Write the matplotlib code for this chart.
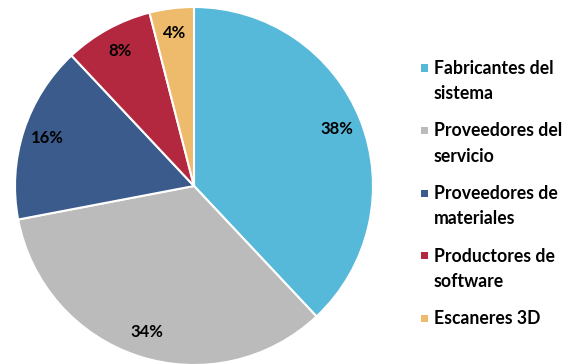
import matplotlib
matplotlib.use('Agg')
from matplotlib import pyplot as plt
from matplotlib.patches import Rectangle

plt.rcParams['font.family'] = ['Lato', 'DejaVu Sans']

categorias = ["Fabricantes del\nsistema", "Proveedores del\nservicio",
              "Proveedores de\nmateriales", "Productores de\nsoftware",
              "Escaneres 3D"]
porcentajes = [38, 34, 16, 8, 4]
colores = ['#57B9D9', '#BBBBBB', '#3B5B8C', '#B3283F', '#EDBB6B']

W, H = 577, 364
fig = plt.figure(figsize=(W / 100, H / 100), dpi=100)

# pie: centro (194, 186) px, radio 179 px
cx, cy, r = 194, 186, 179
ax = fig.add_axes([(cx - r) / W, (H - cy - r) / H, 2 * r / W, 2 * r / H])
wedges, textos, autotextos = ax.pie(
    porcentajes, colors=colores, startangle=90, counterclock=False,
    autopct='%d%%', pctdistance=0.86,
    wedgeprops=dict(edgecolor='white', linewidth=1.5),
    textprops=dict(fontsize=12, fontweight='bold', color='black'))
ax.set_aspect('equal')
ax.set_xlim(-1, 1)
ax.set_ylim(-1, 1)

# leyenda a la derecha
for i, (nombre, col) in enumerate(zip(categorias, colores)):
    y = 68 + i * 62.5
    fig.patches.append(Rectangle(((421) / W, (H - y - 3.5) / H), 7 / W, 7 / H,
                                 facecolor=col, edgecolor='none',
                                 transform=fig.transFigure, figure=fig))
    fig.text(434 / W, (H - y + 8) / H, nombre, fontsize=12.7, fontweight='bold',
             ha='left', va='top', linespacing=1.58)

fig.savefig('out.png', dpi=100)
